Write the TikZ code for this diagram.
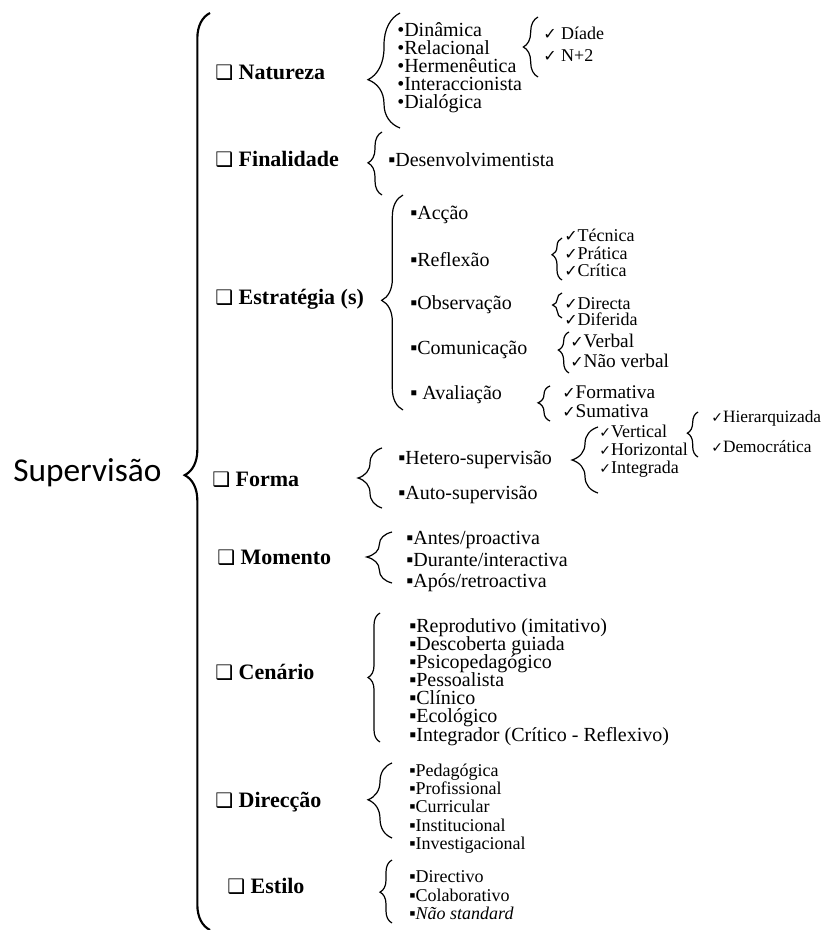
\documentclass[tikz,border=0pt]{standalone}
\usepackage{fontspec}
\setmainfont{Liberation Serif}
\newfontfamily\carlito{Carlito}
\newfontfamily\dingfont{DejaVu Sans}
\usetikzlibrary{decorations.pathreplacing}

\newcommand\chk{{\dingfont\fontsize{12}{12}\selectfont ✓}}
\newcommand\schk{{\dingfont\fontsize{10.5}{10.5}\selectfont ✓}}
\newcommand\qbox{{\dingfont\fontsize{15}{15}\selectfont ❑}}

\tikzset{
  txt/.style={inner sep=0pt, anchor=west, text height=9pt, text depth=2.5pt},
  item/.style={txt, font=\fontsize{15}{15}\selectfont},
  subitem/.style={txt, font=\fontsize{13.5}{13.5}\selectfont},
  cat/.style={txt, font=\fontsize{16.5}{16.5}\selectfont\bfseries},
  curly/.style 2 args={decorate, decoration={brace, amplitude=#1, aspect=#2}, line width=0.9pt}
}

\begin{document}
\begin{tikzpicture}[x=0.75pt, y=-0.75pt]
  \useasboundingbox (0,0) rectangle (825,930);

  \node[txt, font=\carlito\fontsize{25}{25}\selectfont, text height=17pt, text depth=5pt] (sup) at (13,473) {Supervisão};
  \draw[curly={19pt}{0.496}, line width=1.6pt] (210,930) -- (210,13);

  \node[cat] (natureza) at (215,75) {\qbox\ Natureza};
  \node[cat] (finalidade) at (215,162) {\qbox\ Finalidade};
  \node[cat] (estrategia) at (215,300) {\qbox\ Estratégia (s)};
  \node[cat] (forma) at (212,482) {\qbox\ Forma};
  \node[cat] (momento) at (217,560) {\qbox\ Momento};
  \node[cat] (cenario) at (215,675) {\qbox\ Cenário};
  \node[cat] (direccao) at (215,803) {\qbox\ Direcção};
  \node[cat] (estilo) at (227,889) {\qbox\ Estilo};

  \draw[curly={24pt}{0.42}] (400,128) -- (400,13);
  \node[item] (nat1) at (397,32) {•Dinâmica};
  \node[item] (nat2) at (397,50) {•Relacional};
  \node[item] (nat3) at (397,68) {•Hermenêutica};
  \node[item] (nat4) at (397,86) {•Interaccionista};
  \node[item] (nat5) at (397,104) {•Dialógica};
  \draw[curly={11pt}{0.5}] (538,77) -- (538,17);
  \node[subitem] (nat1a) at (543,35) {\chk\ Díade};
  \node[subitem] (nat1b) at (543,57) {\chk\ N+2};

  \draw[curly={10.5pt}{0.51}] (382,195) -- (382,132);
  \node[item] (fin1) at (388,162) {▪Desenvolvimentista};

  \draw[curly={16pt}{0.51}] (403,410) -- (403,195);
  \node[item] (est1) at (410,215) {▪Acção};
  \node[item] (est2) at (410,262) {▪Reflexão};
  \node[item] (est3) at (410,305) {▪Observação};
  \node[item] (est4) at (410,350) {▪Comunicação};
  \node[item] (est5) at (410,395) {▪ Avaliação};
  \draw[curly={7.5pt}{0.6}] (562,280) -- (562,238);
  \node[subitem] (est2a) at (564,237) {\chk Técnica};
  \node[subitem] (est2b) at (564,255) {\chk Prática};
  \node[subitem] (est2c) at (564,272) {\chk Crítica};
  \draw[curly={7pt}{0.52}] (562,318) -- (562,293);
  \node[subitem] (est3a) at (564,305) {\chk Directa};
  \node[subitem] (est3b) at (564,321) {\chk Diferida};
  \draw[curly={8pt}{0.56}] (569,373) -- (569,332);
  \node[item, font=\fontsize{14.5}{14.5}\selectfont] (est4a) at (570,343) {\chk Verbal};
  \node[item, font=\fontsize{14.5}{14.5}\selectfont] (est4b) at (570,363) {\chk Não verbal};
  \draw[curly={9pt}{0.52}] (550,421) -- (550,386);
  \node[item, font=\fontsize{14.5}{14.5}\selectfont] (est5a) at (562,394) {\chk Formativa};
  \node[item, font=\fontsize{14.5}{14.5}\selectfont] (est5b) at (562,413) {\chk Sumativa};

  \draw[curly={18pt}{0.5}] (382,508) -- (382,448);
  \node[item] (for1) at (398,460) {▪Hetero-supervisão};
  \node[item] (for2) at (398,495) {▪Auto-supervisão};
  \draw[curly={19.5pt}{0.5}] (598,493) -- (598,427);
  \node[subitem] (for1a) at (599,433) {\schk Vertical};
  \node[subitem] (for1b) at (599,451) {\schk Horizontal};
  \node[subitem] (for1c) at (599,469) {\schk Integrada};
  \draw[curly={8pt}{0.53}] (698,457) -- (698,412);
  \node[subitem, font=\fontsize{13}{13}\selectfont] (for1ba) at (711,418) {\schk Hierarquizada};
  \node[subitem, font=\fontsize{13}{13}\selectfont] (for1bb) at (711,448) {\schk Democrática};

  \draw[curly={19pt}{0.51}] (392,583) -- (392,532);
  \node[item] (mom1) at (406,540) {▪Antes/proactiva};
  \node[item] (mom2) at (406,562) {▪Durante/interactiva};
  \node[item] (mom3) at (406,583) {▪Após/retroactiva};

  \draw[curly={9pt}{0.5}] (380,742) -- (380,613);
  \node[item] (cen1) at (409,628) {▪Reprodutivo (imitativo)};
  \node[item] (cen2) at (409,646) {▪Descoberta guiada};
  \node[item] (cen3) at (409,664) {▪Psicopedagógico};
  \node[item] (cen4) at (409,682) {▪Pessoalista};
  \node[item] (cen5) at (409,700) {▪Clínico};
  \node[item] (cen6) at (409,718) {▪Ecológico};
  \node[item] (cen7) at (409,737) {▪Integrador (Crítico - Reflexivo)};

  \draw[curly={18pt}{0.51}] (392,838) -- (392,763);
  \node[subitem] (dir1) at (409,772) {▪Pedagógica};
  \node[subitem] (dir2) at (409,790) {▪Profissional};
  \node[subitem] (dir3) at (409,808) {▪Curricular};
  \node[subitem] (dir4) at (409,827) {▪Institucional};
  \node[subitem] (dir5) at (409,845) {▪Investigacional};

  \draw[curly={9pt}{0.49}] (392,923) -- (392,860);
  \node[subitem] (sty1) at (409,878) {▪Directivo};
  \node[subitem] (sty2) at (409,897) {▪Colaborativo};
  \node[subitem] (sty3) at (409,915) {▪\textit{Não standard}};
\end{tikzpicture}
\end{document}
